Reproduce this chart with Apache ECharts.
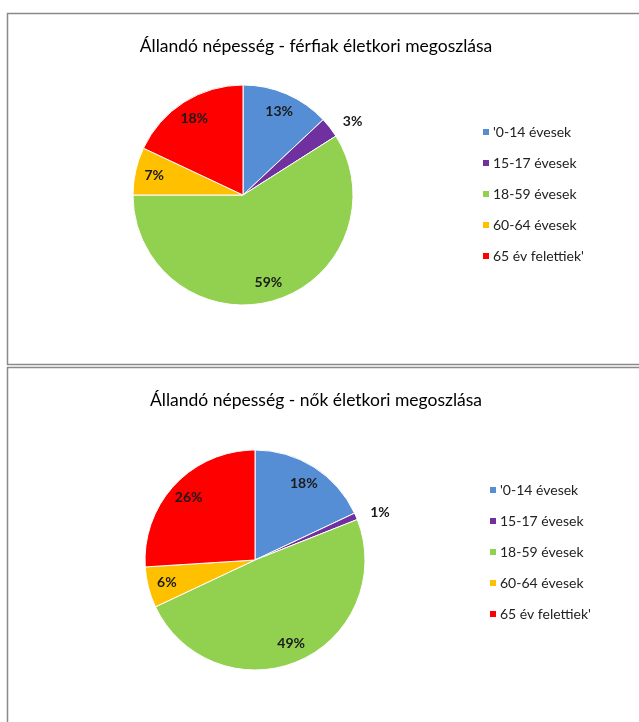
<!DOCTYPE html>
<html>
<head>
<meta charset="utf-8">
<script src="https://cdn.jsdelivr.net/npm/echarts@6/dist/echarts.min.js"></script>
<style>
html,body{margin:0;padding:0;background:#fff;}
#c{width:639px;height:722px;}
</style>
</head>
<body>
<div id="c"></div>
<script>
const categories = ["'0-14 évesek", "15-17 évesek", "18-59 évesek", "60-64 évesek", "65 év felettiek'"];
const menValues = [13, 3, 59, 7, 18];
const womenValues = [18, 1, 49, 6, 26];
const titles = ["Állandó népesség - férfiak életkori megoszlása", "Állandó népesség - nők életkori megoszlása"];
const colors = ['#558ED5', '#7030A0', '#92D050', '#FFC000', '#FF0000'];

const FONT = 'Lato';
const chart = echarts.init(document.getElementById('c'), null, {renderer: 'canvas'});

function mainPie(values, center) {
  return {
    type: 'pie',
    center: center,
    radius: 110,
    startAngle: 90,
    clockwise: true,
    silent: true,
    animation: false,
    label: {show: false},
    labelLine: {show: false},
    itemStyle: {borderColor: '#fff', borderWidth: 1},
    data: categories.map((n, i) => ({name: n, value: values[i], itemStyle: {color: colors[i]}}))
  };
}
function labelPie(values, center, outsideIdx) {
  return {
    type: 'pie',
    center: center,
    radius: [66, 110],
    startAngle: 90,
    clockwise: true,
    silent: true,
    animation: false,
    itemStyle: {color: 'rgba(0,0,0,0)'},
    label: {show: true, position: 'inside', formatter: '{c}%', color: '#1a1a1a', fontFamily: FONT, fontWeight: 'bold', fontSize: 14},
    labelLine: {show: false, length: 10, length2: 0},
    data: categories.map((n, i) => {
      const d = {name: n, value: values[i]};
      if (i === outsideIdx) d.label = {position: 'outside'};
      return d;
    })
  };
}

const legendBase = {
  orient: 'vertical',
  icon: 'rect',
  itemWidth: 8,
  itemHeight: 8,
  itemGap: 17,
  selectedMode: false,
  textStyle: {fontFamily: FONT, fontSize: 14, color: '#222', padding: [0, 0, 0, -2]},
  data: categories
};

chart.setOption({
  backgroundColor: '#fff',
  animation: false,
  color: colors,
  title: [
    {text: titles[0], left: 311, top: 32, textAlign: 'center', textStyle: {fontFamily: FONT, fontSize: 17.5, fontWeight: 'normal', color: '#000'}},
    {text: titles[1], left: 311, top: 386, textAlign: 'center', textStyle: {fontFamily: FONT, fontSize: 17.5, fontWeight: 'normal', color: '#000'}}
  ],
  legend: [
    Object.assign({}, legendBase, {left: 476, top: 120}),
    Object.assign({}, legendBase, {left: 483, top: 478})
  ],
  graphic: [
    {type: 'rect', shape: {x: 7.5, y: 13.5, width: 700, height: 351}, style: {fill: 'none', stroke: '#8a8a8a', lineWidth: 1.5}, silent: true, z: -1},
    {type: 'rect', shape: {x: 7.5, y: 367.5, width: 700, height: 400}, style: {fill: 'none', stroke: '#8a8a8a', lineWidth: 1.5}, silent: true, z: -1}
  ],
  series: [
    mainPie(menValues, [243, 195]),
    labelPie(menValues, [243, 195], 1),
    mainPie(womenValues, [255, 560]),
    labelPie(womenValues, [255, 560], 1)
  ]
});
</script>
</body>
</html>
